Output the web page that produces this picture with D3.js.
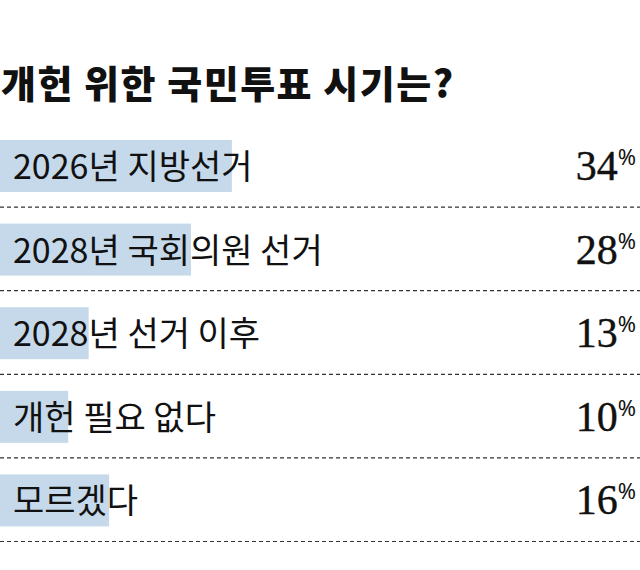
<!DOCTYPE html>
<html>
<head>
<meta charset="utf-8">
<script src="https://cdn.jsdelivr.net/npm/d3@7"></script>
<style>
  body { margin: 0; background: #fff; }
  svg { display: block; }
</style>
</head>
<body>
<div id="chart"></div>
<script>
// Data
const title = "개헌 위한 국민투표 시기는?";
const categories = ["2026년 지방선거", "2028년 국회의원 선거", "2028년 선거 이후", "개헌 필요 없다", "모르겠다"];
const values = [34, 28, 13, 10, 16];

const width = 640, height = 570;

const svg = d3.select("#chart")
    .append("svg")
    .attr("width", width)
    .attr("height", height);

// Scales
const x = d3.scaleLinear()
    .domain([0, 100])
    .range([0, 682]);

const y = d3.scaleBand()
    .domain(categories)
    .range([124, 542])
    .paddingInner(0);

// Title
svg.append("text")
    .attr("x", 1)
    .attr("y", 98)
    .attr("font-family", "'Noto Sans CJK KR', 'Noto Sans', sans-serif")
    .attr("font-weight", 900)
    .attr("font-size", 38)
    .attr("letter-spacing", 1.5)
    .attr("fill", "#111")
    .text(title);

const rows = svg.selectAll(".row")
    .data(categories)
    .enter()
    .append("g")
    .attr("class", "row")
    .attr("transform", d => `translate(0,${y(d)})`);

// Bars
rows.append("rect")
    .attr("x", x(0))
    .attr("y", 16)
    .attr("height", 52)
    .attr("width", (d, i) => x(values[i]) - x(0))
    .attr("fill", "#c5d9ea");

// Labels
rows.append("text")
    .attr("x", 13)
    .attr("y", 55)
    .attr("font-family", "'Noto Sans CJK KR', 'Noto Sans', sans-serif")
    .attr("font-size", 34)
    .attr("fill", "#111")
    .text(d => d);

// Values
const vals = rows.append("text")
    .attr("x", 636)
    .attr("y", 56)
    .attr("text-anchor", "end")
    .attr("font-family", "'Liberation Serif', serif")
    .attr("font-size", 42)
    .attr("fill", "#111")
    .attr("stroke", "#111")
    .attr("stroke-width", 0.4);
vals.append("tspan").text((d, i) => values[i]);
vals.append("tspan")
    .attr("font-family", "'Noto Sans', sans-serif")
    .attr("font-size", 22)
    .attr("stroke-width", 0)
    .attr("dy", -15)
    .text("%");

// Dashed separators
rows.append("line")
    .attr("x1", 0)
    .attr("x2", width)
    .attr("y1", y.step() - 0.5)
    .attr("y2", y.step() - 0.5)
    .attr("stroke", "#333")
    .attr("stroke-width", 1.2)
    .attr("stroke-dasharray", "4,3");
</script>
</body>
</html>
